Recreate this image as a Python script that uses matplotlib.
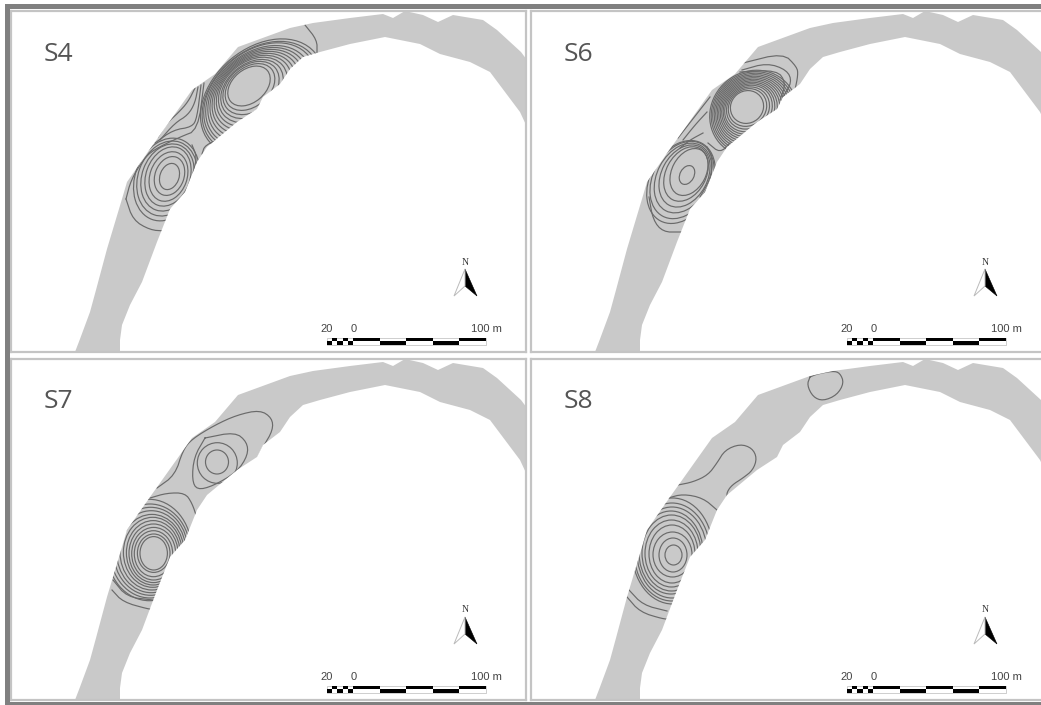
import numpy as np
import matplotlib
matplotlib.use('Agg')
import matplotlib.pyplot as plt
from matplotlib.patches import Ellipse, Polygon, Rectangle

W, H = 1041, 705

# all map coordinates below are in the S4 panel's frame
river_outer = [(75, 352), (80, 339), (90, 312), (96, 290), (107, 249), (122, 199), (127, 182),
               (150, 149), (160, 135), (192, 90), (215, 74), (238, 47), (290, 28), (313, 23),
               (350, 18), (383, 14), (393, 18), (405, 11), (423, 15), (438, 22), (453, 15),
               (483, 20), (497, 30), (521, 52), (527, 60)]
river_inner = [(527, 127), (520, 112), (505, 92), (490, 72), (470, 62), (440, 54), (420, 44),
               (385, 37), (350, 44), (320, 52), (303, 57), (290, 69), (280, 84), (263, 97),
               (257, 109), (237, 122), (207, 147), (197, 162), (185, 192), (170, 209),
               (157, 242), (142, 282), (130, 305), (122, 325), (120, 340), (120, 352)]

# rings: (cx, cy, semi x, semi y)
s4_low = [(169.5, 176.5, 9.5, 13.5), (169.5, 176, 14.5, 20), (168.5, 176.5, 18.5, 25.5),
          (168, 176.5, 22, 30.5), (167.5, 177.5, 25.5, 34.5), (167, 178.5, 29, 38.5),
          (166.5, 179.5, 31.5, 42.5)]
s4_up = [(249, 86, 24, 16.5), (250, 87, 28, 19.5), (251, 88, 31.5, 22.5), (252, 89, 35, 25),
         (253, 90, 38.5, 28), (254, 91, 42, 30.5), (255, 92, 45.5, 33), (256, 93, 49, 35.5),
         (257, 94, 52.5, 38), (258, 95, 56, 40.5), (259, 96, 59.5, 43), (260, 96, 63, 45),
         (261, 97, 66, 47), (262, 97, 69, 49)]
s4_lines = [[(195, 88), (188, 102), (178, 113), (167, 123), (158, 137)],
            [(198, 87), (195, 103), (188, 115), (175, 123), (160, 140)],
            [(201, 85), (197, 118), (192, 127), (173, 130), (155, 143)],
            [(204, 83), (198, 130), (180, 137), (153, 150), (143, 160), (131, 180), (126, 199)],
            [(202, 154), (205, 145), (223, 138)],
            [(192, 145), (197, 157), (193, 173)],
            [(305, 25), (317, 40), (317, 53)],
            [(126, 199), (133, 220), (150, 230), (165, 231)]]

s6_up = [(227, 107, 17, 16), (227.5, 107.5, 20, 18), (228, 108, 22.5, 20), (228.5, 108.5, 25, 22),
         (229, 109, 27, 24), (229.5, 109.5, 29, 26), (230, 110, 31, 28), (230.5, 110.5, 33, 30),
         (231, 111, 35, 32), (231.5, 111.5, 37, 34), (232, 112, 39, 36), (232.5, 112.5, 41, 38),
         (233, 113, 43, 40), (233.5, 113.5, 45, 42)]
s6_low = [(167, 175, 10, 7), (169, 172, 25, 17), (166, 174, 29, 20), (164.5, 176, 33, 23),
          (163, 178, 37, 26), (162, 180, 41, 29), (161, 182, 44, 31)]
s6_lines = [[(223, 63), (263, 53), (277, 67), (278, 75), (275, 90)],
            [(222, 70), (247, 63), (267, 70), (272, 82), (263, 97)],
            [(220, 72), (257, 70), (266, 83), (260, 100)],
            [(190, 97), (172, 120), (158, 138)],
            [(187, 112), (175, 125), (163, 140)],
            [(183, 133), (170, 140), (160, 148)],
            [(187, 147), (193, 160), (190, 180), (180, 197)],
            [(188, 143), (200, 153), (210, 143)],
            [(129, 197), (133, 220), (143, 232), (160, 232), (170, 232)]]

s7_low = [(153.7, 205.3, 13.7, 16.7), (153.7, 205.2, 16.3, 19.2), (153.5, 205.7, 19.2, 23),
          (153.7, 205.7, 22, 26.3), (153.5, 205.3, 24.5, 29.3), (153.2, 204.8, 26.8, 32.2),
          (152.7, 204.3, 29.3, 35), (152, 204.2, 32, 37.8), (151.3, 203.7, 34.7, 41),
          (150.7, 203.3, 37.3, 44), (150, 203, 40, 47), (149.2, 202, 42.5, 50.7)]
s7_up = [(217, 114, 11.5, 12), (217.3, 115, 20, 20.3)]
s7_lines = [[(205, 90), (235, 84), (247, 94), (248, 107), (237, 124), (213, 138), (197, 142),
             (192, 132), (194, 109), (205, 90)],
            [(157, 140), (175, 127), (183, 102), (192, 91), (215, 77), (237, 67), (260, 62),
             (272, 70), (273, 82), (263, 99), (257, 112)],
            [(150, 150), (167, 145), (185, 145), (192, 155), (197, 170)],
            [(112, 242), (123, 254), (148, 261), (152, 261)],
            [(113, 232), (127, 249), (153, 252)]]

s8_low = [(153.5, 207, 8.5, 10), (153, 207, 14, 17), (152.5, 206.5, 19.5, 22.5), (152, 206, 23, 29),
          (151.5, 205.5, 26.5, 33.5), (151.5, 205, 29.5, 38), (151, 204.5, 32, 41.5),
          (152, 204.5, 35, 45.5), (152, 204, 38, 49), (152.5, 203, 40.5, 53)]
s8_lines = [[(158, 137), (173, 134), (188, 127), (197, 115), (205, 102), (220, 96), (232, 100),
             (237, 110), (233, 122), (223, 130), (212, 137), (207, 144), (207, 149)],
            [(290, 29), (287, 37), (293, 49), (303, 53), (317, 47), (324, 35), (320, 25),
             (313, 23), (297, 26), (290, 29)],
            [(148, 150), (163, 146), (183, 150), (197, 162)],
            [(107, 249), (120, 264), (143, 271), (150, 271)],
            [(109, 242), (123, 257), (147, 263)]]

scale_left = [-20, -16, -12, -8, -4, 0]
scale_right = [0, 20, 40, 60, 80, 100]

RIVER = '#c9c9c9'
LINE = '#6a6a6a'
FRAME = '#c4c4c4'
PX_PER_M = 1.327


def smooth(pts, passes=2):
    # corner cutting so the hand read contours are not so angular
    xy = np.array(pts, dtype=float)
    for _ in range(passes):
        q = 0.75 * xy[:-1] + 0.25 * xy[1:]
        r = 0.25 * xy[:-1] + 0.75 * xy[1:]
        mid = np.empty((2 * len(q), 2))
        mid[0::2] = q
        mid[1::2] = r
        xy = np.vstack([xy[0], mid, xy[-1]])
    return xy


def rings(ax, patch, table, angle=0):
    for cx, cy, a, b in table:
        e = Ellipse((cx, cy), 2 * a, 2 * b, angle=angle, fill=False, ec=LINE, lw=0.85)
        ax.add_patch(e)
        e.set_clip_path(patch)


def lines(ax, patch, table):
    for pts in table:
        xy = smooth(pts)
        ln, = ax.plot(xy[:, 0], xy[:, 1], color=LINE, lw=0.85)
        ln.set_clip_path(patch)


def furniture(ax):
    # north arrow
    ax.add_patch(Polygon([(465, 269), (477, 296), (465, 286)], fc='black', ec='black', lw=0.4))
    ax.add_patch(Polygon([(465, 269), (454, 296), (465, 286)], fc='white', ec='#bbbbbb', lw=0.7))
    ax.text(465.5, 262, 'N', ha='center', va='center', fontsize=7, family='Liberation Serif',
            color='#333333')
    # scale bar
    x0 = 353.3
    ys = (337.7, 341.4, 345.2)
    ax.add_patch(Rectangle((x0 - 20 * PX_PER_M, ys[0]), 120 * PX_PER_M, ys[2] - ys[0], fc='white',
                           ec='#bbbbbb', lw=0.5))
    for i in range(len(scale_left) - 1):
        y = ys[1] if i % 2 == 0 else ys[0]
        ax.add_patch(Rectangle((x0 + scale_left[i] * PX_PER_M, y),
                               (scale_left[i + 1] - scale_left[i]) * PX_PER_M, ys[1] - ys[0],
                               fc='black', lw=0))
    for i in range(len(scale_right) - 1):
        y = ys[0] if i % 2 == 0 else ys[1]
        ax.add_patch(Rectangle((x0 + scale_right[i] * PX_PER_M, y),
                               (scale_right[i + 1] - scale_right[i]) * PX_PER_M, ys[1] - ys[0],
                               fc='black', lw=0))
    for m, label in [(-20, '20'), (0, '0'), (100, '100 m')]:
        ax.text(x0 + m * PX_PER_M, 329, label, ha='center', va='center', fontsize=8,
                family='Liberation Sans', color='#444444')


fig = plt.figure(figsize=(W / 100, H / 100), dpi=100)
fig.patch.set_facecolor('white')

# dark window edge at left, top and bottom
fig.add_artist(Rectangle((5 / W, 0), 5 / W, 1 - 4 / H, fc='#808080', lw=0, transform=fig.transFigure))
fig.add_artist(Rectangle((5 / W, 1 - 9 / H), 1 - 5 / W, 5 / H, fc='#808080', lw=0, transform=fig.transFigure))
fig.add_artist(Rectangle((5 / W, 0), 1 - 5 / W, 3 / H, fc='#808080', lw=0, transform=fig.transFigure))

panels = [('S4', 0, 0), ('S6', 520, 0), ('S7', 0, 348), ('S8', 520, 348)]
axes = {}
for name, dx, dy in panels:
    left, right, top, bottom = 11 + dx, 526 + dx, 11 + dy, 352 + dy
    ax = fig.add_axes([left / W, 1 - bottom / H, (right - left) / W, (bottom - top) / H])
    ax.set_xlim(11, 526)
    ax.set_ylim(352, 11)
    ax.set_xticks([])
    ax.set_yticks([])
    for s in ax.spines.values():
        s.set_color(FRAME)
        s.set_linewidth(1.6)
    river = Polygon(river_outer + river_inner, fc=RIVER, ec='none')
    ax.add_patch(river)
    ax.text(44, 54, name, fontsize=19, family='Open Sans', color='#555555', va='center', ha='left')
    furniture(ax)
    axes[name] = (ax, river)

ax, river = axes['S4']
rings(ax, river, s4_low, angle=20)
rings(ax, river, s4_up, angle=-40)
lines(ax, river, s4_lines)

ax, river = axes['S6']
rings(ax, river, s6_up, angle=-40)
rings(ax, river, s6_low, angle=-62)
lines(ax, river, s6_lines)

ax, river = axes['S7']
rings(ax, river, s7_low)
rings(ax, river, s7_up)
lines(ax, river, s7_lines)

ax, river = axes['S8']
rings(ax, river, s8_low)
lines(ax, river, s8_lines)

fig.savefig('out.png', dpi=100)
